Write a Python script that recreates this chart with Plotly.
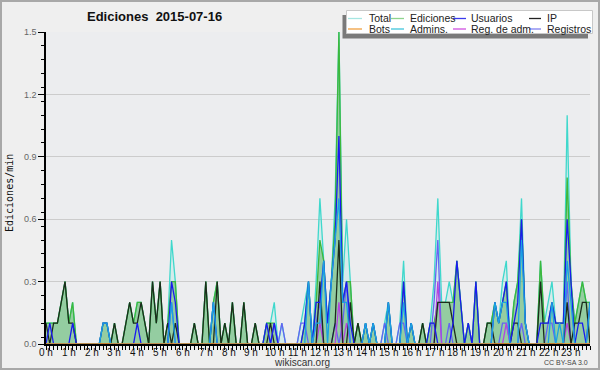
import plotly.graph_objects as go

# 10-minute steps over the day (minutes since 00:00)
minutes = list(range(0, 1440, 10))
hour_ticks = list(range(0, 1440, 60))
hour_labels = [f"{h} h" for h in range(24)]
y_ticks = [0, 0.3, 0.6, 0.9, 1.2, 1.5]
y_labels = ["0.0", "0.3", "0.6", "0.9", "1.2", "1.5"]

# values in edits/min, one row per hour (6 x 10-min steps)
total = [
    .1, .1, .1, .1, .2, .3,   .1, .2, 0, 0, 0, 0,   0, 0, 0, .1, .1, 0,   .1, 0, 0, .1, .2, .1,
    .2, .2, .1, 0, .3, .1,    .3, 0, .1, .5, .3, 0, 0, 0, 0, .1, 0, 0,    .3, 0, .2, .3, 0, .1,
    0, .2, 0, 0, .2, 0,       0, .1, 0, 0, .1, .1,  .2, 0, .1, 0, 0, 0,   0, .1, .2, .3, 0, .3,
    .7, .4, .1, .3, .7, 1.5,  .3, .6, .3, 0, .1, 0, .1, 0, .1, 0, 0, .1,  .2, 0, 0, .1, .4, 0,
    .1, 0, 0, .1, 0, .1,      .3, .7, .2, .2, .3, .2, .4, .2, 0, .1, 0, .3, 0, 0, .1, .1, .2, .1,
    .3, .4, 0, .2, .3, .7,    .1, 0, 0, 0, .4, .1,  .2, .3, .1, .1, .1, 1.1, .3, .1, .2, .3, .2, .2,
]
ediciones = [
    .1, .1, .1, .1, .2, .3,   .1, .2, 0, 0, 0, 0,   0, 0, 0, .1, .1, 0,   .1, 0, 0, .1, .2, .1,
    .2, .2, .1, 0, .3, .1,    .3, 0, .1, .3, .3, 0, 0, 0, 0, .1, 0, 0,    .3, 0, .2, .3, 0, .1,
    0, .2, 0, 0, .2, 0,       0, .1, 0, 0, .1, .1,  .1, 0, 0, 0, 0, 0,    0, 0, .1, .3, 0, .2,
    .5, .4, .1, .3, .6, 1.5,  .2, .3, .3, 0, .1, 0, .1, 0, .1, 0, 0, 0,   .2, 0, 0, 0, .3, 0,
    .1, 0, 0, .1, 0, .1,      .1, .2, .2, .2, .2, .2, .4, .2, 0, .1, 0, .3, 0, 0, .1, .1, .2, .1,
    .2, .3, 0, .2, .3, .6,    .1, 0, 0, 0, .4, .1,  .1, .2, .1, .1, .1, .8, .3, .1, .2, .3, .2, .2,
]
usuarios = [
    0, .1, 0, 0, 0, 0,        0, .1, 0, 0, 0, 0,    0, 0, 0, .1, .1, 0,   0, 0, 0, 0, 0, 0,
    .1, 0, 0, 0, 0, 0,        0, 0, 0, .3, .2, 0,   0, 0, 0, 0, 0, 0,     0, 0, .2, 0, 0, 0,
    0, 0, 0, 0, 0, 0,         0, 0, 0, 0, .1, 0,    .1, 0, 0, 0, 0, 0,    0, 0, .1, .3, 0, .2,
    .2, .4, .1, .3, .5, 1.0,  .2, .3, .1, 0, 0, 0,  .1, 0, .1, 0, 0, 0,   .2, 0, 0, 0, .3, 0,
    .1, 0, 0, 0, 0, .1,       .1, 0, 0, 0, 0, .1,   .4, .2, 0, .1, 0, .3, 0, 0, 0, 0, .2, .1,
    .2, .3, 0, .1, .2, .6,    .1, 0, 0, 0, .1, .1,  .1, .2, .1, .1, .1, .6, .3, 0, .1, .1, 0, .2,
]
ip = [
    .1, 0, .1, .1, .2, .3,    .1, .1, 0, 0, 0, 0,   0, 0, 0, 0, 0, 0,     .1, 0, 0, .1, .2, .1,
    .1, .2, .1, 0, .3, .1,    .3, 0, .1, 0, .1, 0,  0, 0, 0, .1, 0, 0,    .3, 0, 0, .3, 0, .1,
    0, .2, 0, 0, .2, 0,       0, .1, 0, 0, 0, .1,   0, 0, 0, 0, 0, 0,     0, 0, 0, 0, 0, 0,
    .3, 0, 0, 0, .1, .5,      0, 0, .2, 0, .1, 0,   0, 0, 0, 0, 0, 0,     0, 0, 0, 0, 0, 0,
    0, 0, 0, .1, 0, 0,        0, .2, .2, .2, .2, .1, 0, 0, 0, 0, 0, 0,    0, 0, .1, .1, 0, 0,
    0, 0, 0, .1, .1, 0,       0, 0, 0, 0, .3, 0,    0, 0, 0, 0, 0, .2,    0, .1, .1, .2, .2, 0,
]
bots = [0] * 144
admins = [
    0, 0, 0, 0, 0, 0,         0, 0, 0, 0, 0, 0,     0, 0, 0, .1, .1, 0,   0, 0, 0, 0, 0, 0,
    0, 0, 0, 0, 0, 0,         0, 0, 0, .2, 0, 0,    0, 0, 0, 0, 0, 0,     0, 0, .2, 0, 0, 0,
    0, 0, 0, 0, 0, 0,         0, 0, 0, 0, 0, 0,     0, 0, 0, 0, 0, 0,     0, 0, 0, .3, 0, .1,
    .1, .4, 0, .3, .5, .7,    .2, .2, 0, 0, 0, 0,   .1, 0, .1, 0, 0, 0,   .2, 0, 0, 0, .2, 0,
    .1, 0, 0, 0, 0, 0,        0, 0, 0, 0, 0, 0,     0, 0, 0, 0, 0, 0,     0, 0, 0, 0, .2, .1,
    .2, .2, 0, 0, 0, .5,      .1, 0, 0, 0, 0, 0,    0, .2, 0, .1, 0, .4,  .2, 0, 0, 0, 0, .2,
]
reg_adm = [
    0, 0, 0, 0, 0, 0,         0, 0, 0, 0, 0, 0,     0, 0, 0, 0, 0, 0,     0, 0, 0, 0, 0, 0,
    0, 0, 0, 0, 0, 0,         0, 0, 0, 0, 0, 0,     0, 0, 0, 0, 0, 0,     0, 0, 0, 0, 0, 0,
    0, 0, 0, 0, 0, 0,         0, 0, 0, 0, 0, 0,     0, 0, 0, 0, 0, 0,     0, 0, 0, 0, 0, 0,
    .1, 0, 0, 0, 0, .2,       0, .1, 0, 0, 0, 0,    0, 0, 0, 0, 0, 0,     0, 0, 0, 0, 0, 0,
    0, 0, 0, 0, 0, 0,         0, .3, 0, 0, 0, 0,    0, 0, 0, 0, 0, 0,     0, 0, 0, 0, 0, 0,
    0, .1, 0, 0, 0, 0,        0, 0, 0, 0, 0, 0,     0, 0, 0, 0, 0, .1,    0, 0, 0, 0, 0, 0,
]
registros = [
    0, 0, 0, 0, 0, 0,         0, 0, 0, 0, 0, 0,     0, 0, 0, 0, 0, 0,     0, 0, 0, 0, 0, 0,
    0, 0, 0, 0, 0, 0,         0, 0, 0, .2, 0, 0,    0, 0, 0, 0, 0, 0,     0, 0, 0, 0, 0, 0,
    0, 0, 0, 0, 0, 0,         0, 0, 0, 0, 0, 0,     .1, 0, .1, 0, 0, 0,   0, .1, .1, 0, 0, .1,
    .2, 0, 0, 0, .1, 0,       .1, .3, 0, 0, 0, 0,   0, 0, 0, 0, 0, .1,    0, 0, 0, .1, .1, 0,
    0, 0, 0, 0, 0, 0,         .2, .5, 0, 0, .1, 0,  0, 0, 0, 0, 0, 0,     0, 0, 0, 0, 0, 0,
    .1, .1, 0, 0, 0, .1,      0, 0, 0, 0, 0, 0,     .1, .1, 0, 0, 0, .3,  0, 0, 0, 0, 0, 0,
]

legend_names = ["Total", "Ediciones", "Usuarios", "IP",
                "Bots", "Admins.", "Reg. de adm.", "Registros"]
legend_swatch = ["#a6e6e2", "#8ed48e", "#3a3aee", "#222222",
                 "#f0a040", "#40c4dc", "#d050e0", "#8080f0"]

W, H = 600, 370
ML, MR, MT, MB = 46, 10, 32, 26
PW, PH = W - ML - MR, H - MT - MB


def px(x):
    return (x - ML) / PW


def py(y):
    return (H - MB - y) / PH


fig = go.Figure()

series = [
    ("Total", total, "#3fd8cc", "tozeroy", "rgba(64,224,208,0.13)"),
    ("Ediciones", ediciones, "#3cb83c", "tozeroy", "rgba(60,165,60,0.42)"),
    ("Registros", registros, "#6464f2", None, None),
    ("Reg. de adm.", reg_adm, "#b444e0", None, None),
    ("IP", ip, "#1c2c1c", None, None),
    ("Usuarios", usuarios, "#1a1af0", None, None),
    ("Admins.", admins, "#1aa2e2", None, None),
    ("Bots", bots, "#f09020", None, None),
]
for name, vals, col, fill, fcol in series:
    kw = dict(fill=fill, fillcolor=fcol) if fill else {}
    fig.add_trace(go.Scatter(
        x=minutes, y=vals, name=name, mode="lines",
        line=dict(color=col, width=1.3), showlegend=False,
        hoverinfo="skip", **kw))

shapes = [
    # outer frame
    dict(type="rect", xref="paper", yref="paper", x0=px(1), x1=px(599),
         y0=py(369), y1=py(1), line=dict(color="#a8a8a8", width=2),
         fillcolor="rgba(0,0,0,0)", layer="above"),
    # legend shadow and box
    dict(type="rect", xref="paper", yref="paper", x0=px(342.5), x1=px(588),
         y0=py(38.5), y1=py(15), line=dict(width=0), fillcolor="#7a7a7a",
         layer="above"),
    dict(type="rect", xref="paper", yref="paper", x0=px(346.5), x1=px(592.5),
         y0=py(33.5), y1=py(10.5), line=dict(color="#c8c8c8", width=1),
         fillcolor="#ffffff", layer="above"),
]
annotations = []
col_sw = [(348, 362), (391, 404), (453, 466), (529, 541)]
col_tx = [367, 408, 469, 545]
row_y = [18.5, 29]
for i, (name, c) in enumerate(zip(legend_names, legend_swatch)):
    r, k = divmod(i, 4)
    shapes.append(dict(type="line", xref="paper", yref="paper",
                       x0=px(col_sw[k][0]), x1=px(col_sw[k][1]),
                       y0=py(row_y[r]), y1=py(row_y[r]),
                       line=dict(color=c, width=1.3), layer="above"))
    annotations.append(dict(text=name, xref="paper", yref="paper",
                            x=px(col_tx[k]), y=py(row_y[r]),
                            xanchor="left", yanchor="middle", showarrow=False,
                            font=dict(family="Liberation Sans", size=10.5,
                                      color="#222")))

# hour labels, placed on the x scale just under the ticks
for tv, tl in zip(hour_ticks, hour_labels):
    annotations.append(dict(text=tl, xref="x", yref="paper", x=tv,
                            y=py(353), xanchor="center", yanchor="middle",
                            showarrow=False,
                            font=dict(family="Liberation Sans", size=10,
                                      color="#111")))

annotations += [
    dict(text="Ediciones\u00a0\u00a02015-07-16", xref="paper", yref="paper",
         x=px(85), y=py(16.5), xanchor="left", yanchor="middle",
         showarrow=False,
         font=dict(family="Liberation Sans", size=13, color="#111",
                   weight="bold")),
    dict(text="Ediciones/min", xref="paper", yref="paper", x=px(10),
         y=py(193), textangle=-90, xanchor="center", yanchor="middle",
         showarrow=False,
         font=dict(family="DejaVu Sans Mono", size=10, color="#111")),
    dict(text="wikiscan.org", xref="paper", yref="paper", x=px(302),
         y=py(362), xanchor="center", yanchor="middle", showarrow=False,
         font=dict(family="Liberation Sans", size=10, color="#333")),
    dict(text="CC BY-SA 3.0", xref="paper", yref="paper", x=px(590),
         y=py(362), xanchor="right", yanchor="middle", showarrow=False,
         font=dict(family="Liberation Sans", size=7, color="#444")),
]

fig.update_layout(
    width=W, height=H, autosize=False,
    margin=dict(l=ML, r=MR, t=MT, b=MB, pad=0, autoexpand=False),
    paper_bgcolor="#efefef", plot_bgcolor="#ecedef",
    shapes=shapes, annotations=annotations, showlegend=False,
    font=dict(family="Liberation Sans"),
)
fig.update_xaxes(
    range=[0, 1430], tickmode="array", tickvals=hour_ticks,
    showticklabels=False, automargin=False,
    ticks="outside", ticklen=4, tickwidth=1,
    tickcolor="black", showline=True, linecolor="black", linewidth=2,
    showgrid=False, zeroline=False,
    minor=dict(tickmode="linear", tick0=0, dtick=10, ticks="outside",
               ticklen=4, tickcolor="black", showgrid=False),
)
fig.update_yaxes(
    range=[0, 1.5], tickmode="array", tickvals=y_ticks, ticktext=y_labels,
    automargin=False,
    ticks="outside", ticklen=6, tickcolor="black", showline=True,
    linecolor="black", linewidth=1.5, showgrid=True, gridcolor="#cccccc",
    gridwidth=1, zeroline=False,
    tickfont=dict(family="Liberation Sans", size=9, color="#666"),
    minor=dict(tickmode="linear", tick0=1 / 30, dtick=1 / 15,
               ticks="outside", ticklen=3, tickcolor="black", showgrid=False),
)

fig.write_html(
    "out.html",
    config={"displayModeBar": False, "responsive": False},
    post_script="document.body.style.margin='0';"
                "document.body.style.overflow='hidden';",
)
